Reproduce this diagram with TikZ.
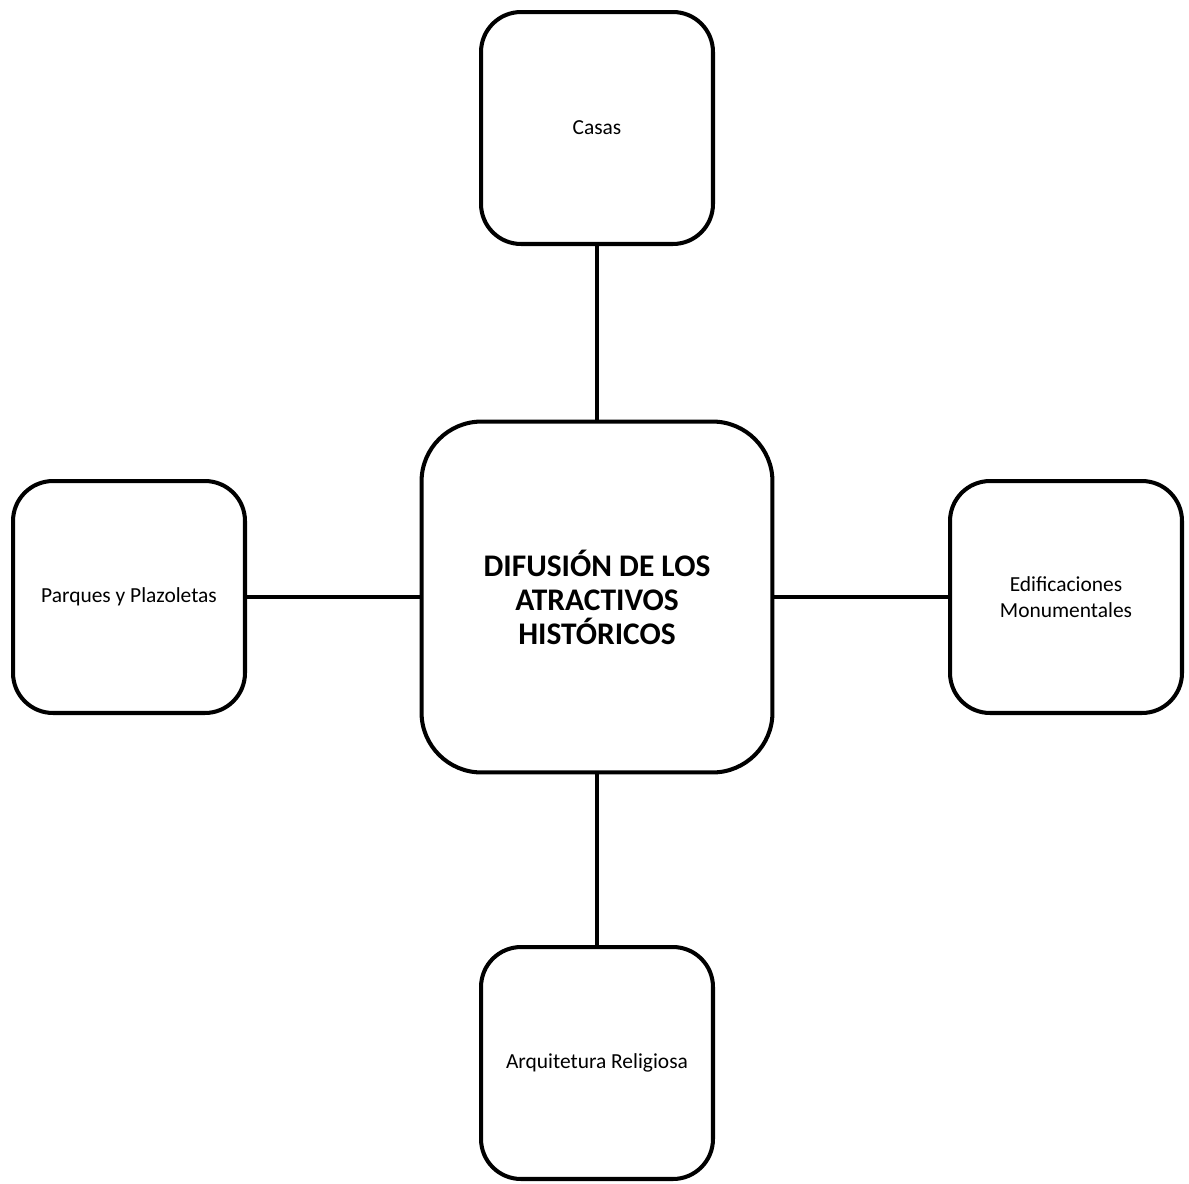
\documentclass[tikz,border=0pt]{standalone}
\usepackage{fontspec}
\setmainfont{Carlito}

\begin{document}
\begin{tikzpicture}
  [x=0.02cm,y=-0.02cm,line width=2.3pt,
   every node/.style={draw,align=center,font=\fontsize{12.2}{14.7}\selectfont},
   hub/.style={minimum width=7.02cm,minimum height=7.02cm,rounded corners=1.2cm,
     font=\fontsize{17.9}{19.3}\selectfont\bfseries},
   leaf/.style={minimum width=4.64cm,minimum height=4.64cm,rounded corners=0.8cm}]
  \useasboundingbox (0,0) rectangle (1189,1183);
  \node[hub] (dif) at (597,597) {DIFUSIÓN DE LOS\\ATRACTIVOS\\HISTÓRICOS};
  \node[leaf] (casas) at (597,128) {Casas};
  \node[leaf] (parques) at (129,597) {Parques y Plazoletas};
  \node[leaf] (edif) at (1066,597) {Edificaciones\\Monumentales};
  \node[leaf] (arq) at (597,1063) {Arquitetura Religiosa};

\foreach \to in
{casas, parques, edif, arq}
    \draw (dif) -- (\to);
\end{tikzpicture}
\end{document}
